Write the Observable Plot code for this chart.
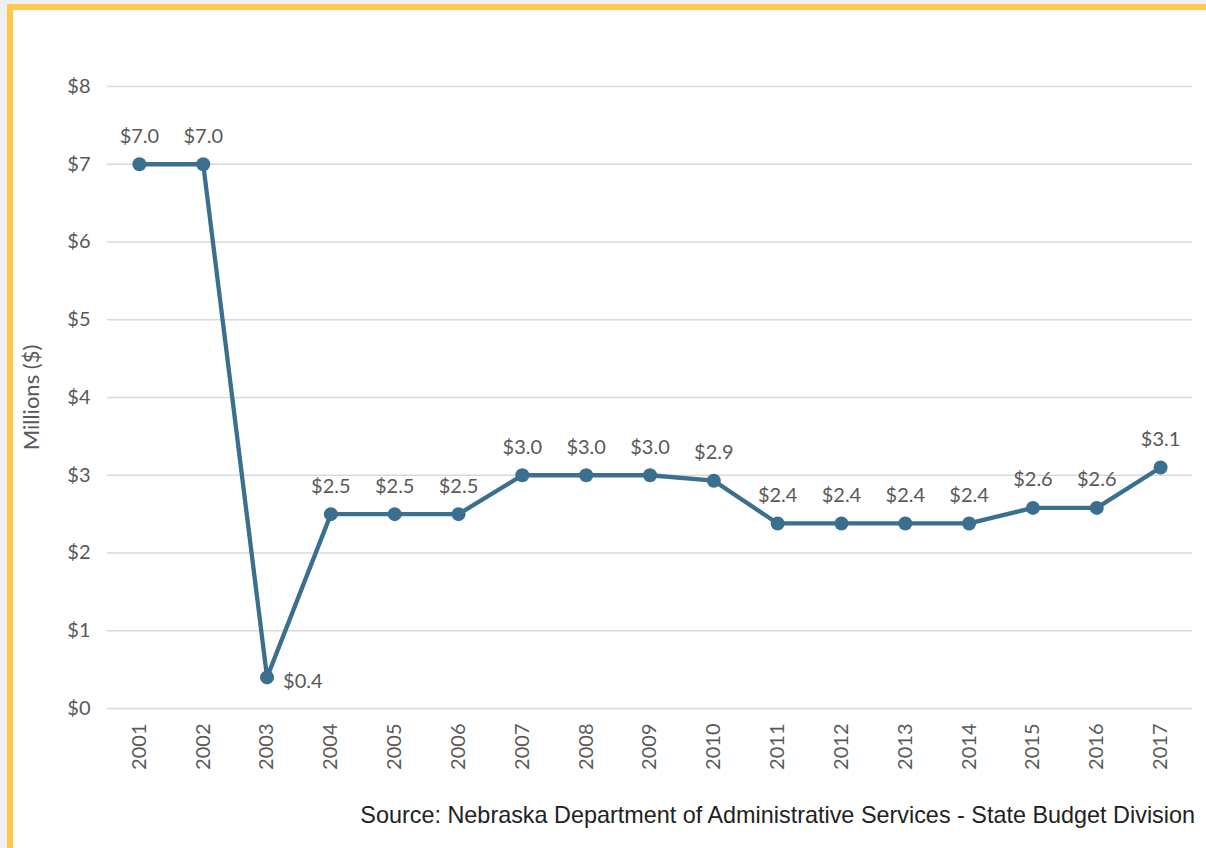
<!DOCTYPE html>
<html><head><meta charset="utf-8">
<script src="https://cdn.jsdelivr.net/npm/d3@7"></script>
<script src="https://cdn.jsdelivr.net/npm/@observablehq/plot@0.6"></script>
<style>
html,body{margin:0;padding:0}
body{background:#eef0f3;width:1206px;height:848px;overflow:hidden;position:relative}
#frame{position:absolute;left:7px;top:4px;width:1199px;height:844px;box-sizing:border-box;background:#fff;border-top:6px solid #fec84a;border-left:6px solid #fec84a}
#chart{position:absolute;left:0;top:0}
#source{position:absolute;right:11px;top:792px;font:23.4px "Liberation Sans",Arial,sans-serif;color:#222;white-space:nowrap}
</style></head>
<body>
<div id="frame"><div id="chart"></div><div id="source">Source: Nebraska Department of Administrative Services - State Budget Division</div></div>
<script>
const years = ["2001","2002","2003","2004","2005","2006","2007","2008","2009","2010","2011","2012","2013","2014","2015","2016","2017"];
const values = [7.0, 7.0, 0.4, 2.5, 2.5, 2.5, 3.0, 3.0, 3.0, 2.93, 2.38, 2.38, 2.38, 2.38, 2.58, 2.58, 3.1];
const yTicks = [0, 1, 2, 3, 4, 5, 6, 7, 8];
const rightLabelYears = ["2003"];

const data = years.map((y, i) => ({year: y, value: values[i], label: "$" + d3.format(".1f")(values[i])}));
const color = "#3a6f8f";
const font = "Lato, 'Open Sans', sans-serif";

const chart = Plot.plot({
  width: 1193,
  height: 780,
  marginLeft: 94,
  marginRight: 14,
  marginTop: 76,
  marginBottom: 82,
  style: {fontFamily: font, fontSize: "20px", color: "#595959", background: "transparent"},
  x: {type: "band", domain: years, padding: 0, round: false, label: null},
  y: {domain: [0, 8], ticks: yTicks, label: null},
  marks: [
    Plot.gridY(yTicks, {stroke: "#d9d9d9", strokeOpacity: 1, strokeWidth: 1.3}),
    Plot.axisY({ticks: yTicks, tickSize: 0, tickPadding: 17, tickFormat: d => "$" + d, fontSize: 20, label: "Millions ($)", labelAnchor: "center", labelArrow: "none", labelOffset: 84}),
    Plot.axisX({tickSize: 0, tickPadding: 15, tickRotate: -90, fontSize: 20, label: null}),
    Plot.line(data, {x: "year", y: "value", stroke: color, strokeWidth: 4.3}),
    Plot.dot(data, {x: "year", y: "value", fill: color, r: 7}),
    Plot.text(data.filter(d => !rightLabelYears.includes(d.year)), {x: "year", y: "value", text: "label", dy: -28, fill: "#595959", fontSize: 20}),
    Plot.text(data.filter(d => rightLabelYears.includes(d.year)), {x: "year", y: "value", text: "label", dx: 16, dy: 4, textAnchor: "start", fill: "#595959", fontSize: 20})
  ]
});
chart.querySelectorAll("text").forEach(t => { if (t.textContent === "Millions ($)") t.setAttribute("font-size", "22"); });
document.getElementById("chart").appendChild(chart);
</script>
</body></html>
